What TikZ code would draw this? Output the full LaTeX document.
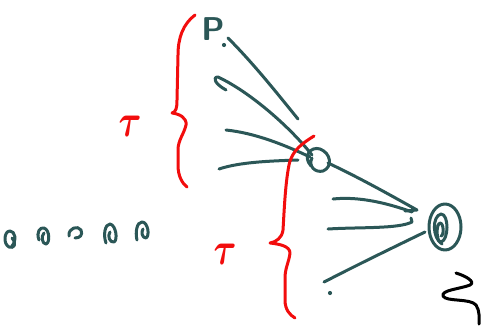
\documentclass[tikz,border=0pt]{standalone}
\usepackage{fontspec}
\definecolor{inkteal}{HTML}{2B5757}
\definecolor{inkred}{HTML}{F20D0D}
\tikzset{
  ink/.style={draw=inkteal, line width=3pt, line cap=round, line join=round},
  redink/.style={draw=inkred, line width=3pt, line cap=round, line join=round},
  blackink/.style={draw=black, line width=3pt, line cap=round, line join=round},
  tau/.style={text=inkred, inner sep=0pt},
}
\newcommand{\bigtau}{\scalebox{3.5}[4.6]{\boldmath$\tau$}}
\begin{document}
\begin{tikzpicture}[x=1pt,y=-1pt]
\useasboundingbox (0,0) rectangle (490,325);

% label P with its dot
\node[text=inkteal, inner sep=0pt, font=\sffamily\bfseries\fontsize{33}{33}\selectfont] (p) at (213,29) {P};
\fill[inkteal] (224,45) circle (2.1);

% two hubs
\coordinate (hubA) at (318,160);
\coordinate (hubB) at (445,227);

% small hub loop
\draw[ink] (311,166) .. controls (302,156) and (311,146) .. (320,149)
  .. controls (331,153) and (333,167) .. (323,171)
  .. controls (315,173) and (308,166) .. (312,158);
% big hub: outer loop and inner spiral
\draw[ink] (hubB) ellipse (16 and 23);
\draw[ink] (442,244) .. controls (432,238) and (432,216) .. (441,214)
  .. controls (449,214) and (449,240) .. (441,242)
  .. controls (436,242) and (436,224) .. (440,223)
  .. controls (444,223) and (444,236) .. (441,236);

% strokes into the small hub
\draw[ink] (228,38) .. controls (255,65) and (280,97) .. (298,119);
\draw[ink] (226,90) .. controls (215,84) and (212,77) .. (218,77)
  .. controls (250,92) and (290,127) .. (312,155);
\draw[ink] (226,130) .. controls (255,133) and (285,145) .. (310,157);
\draw[ink] (219,169) .. controls (240,162) and (270,161) .. (298,160);

% strokes into the big hub
\draw[ink] (328,163) .. controls (360,178) and (392,196) .. (417,210) -- (405,211);
\draw[ink] (333,199) .. controls (360,196) and (390,204) .. (412,212);
\draw[ink] (328,229) .. controls (360,227) and (398,229) .. (412,222) -- (411,218);
\draw[ink] (324,282) -- (328,280) .. controls (355,266) and (392,248) .. (425,232);
\fill[inkteal] (330,293) circle (2.1);

% row of small loops
\draw[ink] (12,246) .. controls (17,240) and (15,231) .. (10,231)
  .. controls (4,231) and (3,244) .. (9,247) .. controls (14,249) and (17,244) .. (12,238);
\draw[ink] (39,240) .. controls (36,232) and (40,227) .. (44,228)
  .. controls (50,230) and (50,243) .. (46,244) .. controls (42,244) and (41,236) .. (44,233);
\draw[ink] (69,236) .. controls (68,228) and (78,225) .. (81,230)
  .. controls (83,235) and (80,238) .. (75,238);
\draw[ink] (106,243) .. controls (103,235) and (105,224) .. (110,224)
  .. controls (116,225) and (118,240) .. (114,242) .. controls (110,243) and (107,236) .. (110,232);
\draw[ink] (137,240) .. controls (135,232) and (137,222) .. (142,222)
  .. controls (148,222) and (150,236) .. (146,238) .. controls (142,238) and (141,232) .. (143,229);

% red braces
\draw[redink] (195,15) .. controls (183,24) and (178,38) .. (178,55)
  -- (177,100) .. controls (177,108) and (176,112) .. (172,113)
  .. controls (180,114) and (187,118) .. (186,125)
  .. controls (184,134) and (178,140) .. (178,150)
  -- (178,165) .. controls (178,176) and (182,183) .. (187,187);
\draw[redink] (314,136) .. controls (303,143) and (292,150) .. (289,165)
  .. controls (285,185) and (284,215) .. (283,230)
  .. controls (282,238) and (276,242) .. (270,243)
  .. controls (279,244) and (290,246) .. (290,253)
  .. controls (289,262) and (285,268) .. (285,278)
  -- (285,300) .. controls (285,310) and (290,315) .. (295,318);

% red tau labels
\node[tau] (tauA) at (130,126) {\bigtau};
\node[tau] (tauB) at (225,254) {\bigtau};

% black squiggle
\draw[blackink] (456,273) .. controls (466,276) and (476,282) .. (470,285)
  .. controls (460,289) and (441,290) .. (443,296)
  .. controls (446,302) and (470,298) .. (476,305)
  .. controls (480,311) and (479,318) .. (479,324);
\end{tikzpicture}
\end{document}
